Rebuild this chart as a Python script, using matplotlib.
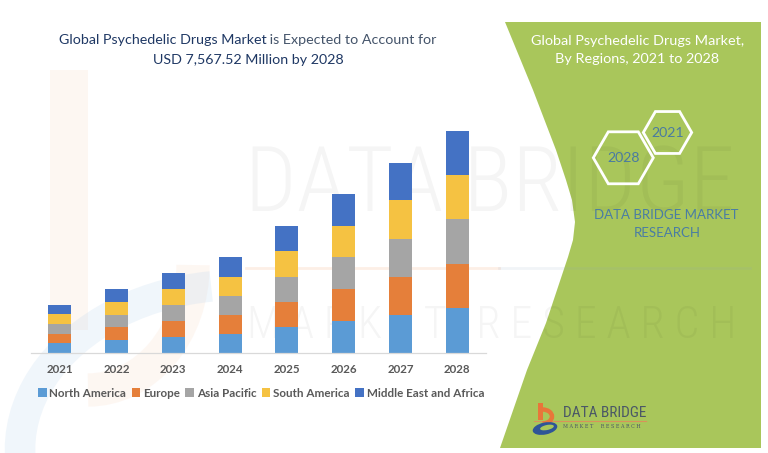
import matplotlib
matplotlib.use("Agg")
import matplotlib.pyplot as plt
import numpy as np
from matplotlib.patches import Polygon, Rectangle, Ellipse, Arc
from matplotlib.transforms import Affine2D
from matplotlib import font_manager

# ---------------- data ----------------
years = ["2021", "2022", "2023", "2024", "2025", "2026", "2027", "2028"]
regions = ["North America", "Europe", "Asia Pacific", "South America",
           "Middle East and Africa"]
north_america = [320, 433, 535, 637, 866, 1091, 1295, 1514]
europe = [327, 433, 556, 658, 873, 1081, 1295, 1510]
asia_pacific = [320, 419, 525, 637, 842, 1081, 1295, 1524]
south_america = [341, 453, 545, 648, 876, 1067, 1309, 1510]
middle_east_africa = [307, 423, 545, 672, 862, 1091, 1282, 1510]
series = [north_america, europe, asia_pacific, south_america, middle_east_africa]
colors = ["#5B9BD5", "#E57F3A", "#A5A5A5", "#F5C242", "#4472C4"]

title_part1 = "Global Psychedelic Drugs Market"
title_part2 = " is Expected to Account for"
title_line2 = "USD 7,567.52 Million by 2028"
panel_title = ["Global Psychedelic Drugs Market,", "By Regions, 2021 to 2028"]
hex_labels = ["2028", "2021"]
brand_lines = ["DATA BRIDGE MARKET", "RESEARCH"]

# ---------------- fonts ----------------
names = {f.name for f in font_manager.fontManager.ttflist}
MAIN = "Lato" if "Lato" in names else "DejaVu Sans"
NARROW = MAIN
for cand in ["Roboto Condensed", "Liberation Sans Narrow", "Open Sans Condensed",
             "DejaVu Sans Condensed"]:
    if cand in names:
        NARROW = cand
        break

W, H = 768, 453
fig = plt.figure(figsize=(W / 100, H / 100), dpi=100)
fig.patch.set_facecolor("white")
PX = Affine2D().scale(1 / W, -1 / H).translate(0, 1) + fig.transFigure
renderer = fig.canvas.get_renderer()


def fx(x):
    return x / W


def fy(y):
    return 1 - y / H


def text_width(s, **kw):
    t = fig.text(0, 0, s, **kw)
    w = t.get_window_extent(renderer).width
    t.remove()
    return w


def fit_size(s, target, base=10, **kw):
    return base * target / text_width(s, fontsize=base, **kw)


# ---------------- green side panel ----------------
GREEN = "#A9C65B"
left_edge = [(505, 22), (533, 90), (556, 150), (566, 180), (572, 200), (575, 222),
             (573, 240), (568, 257), (546, 323), (527, 370), (500, 448)]
panel = Polygon(left_edge + [(761, 448), (761, 22)], closed=True, transform=PX,
                facecolor=GREEN, edgecolor="none", zorder=0.1)
fig.patches.append(panel)

# ---------------- watermark ----------------
wm_kw = dict(family=NARROW, weight="light", color="black", alpha=0.04,
             ha="center", va="center", zorder=0.5)
fs = fit_size("DATA BRIDGE", 488, family=NARROW, weight="light")
fig.text(fx(490), fy(186), "DATA BRIDGE", fontsize=fs, **wm_kw)
fs2 = fit_size("M A R K E T   R E S E A R C H", 488, family=NARROW, weight="light")
fig.text(fx(492), fy(326), "M A R K E T   R E S E A R C H", fontsize=fs2, **wm_kw)
fig.lines.append(plt.Line2D([246, 499], [268, 268], transform=PX, color="#F4B183",
                            alpha=0.2, lw=2, zorder=0.5))
fig.lines.append(plt.Line2D([499, 750], [268, 268], transform=PX, color="#8FA5C0",
                            alpha=0.12, lw=2, zorder=0.5))
fig.patches.append(Rectangle((50, 70), 38, 260, transform=PX, facecolor="#F8CBAD",
                             alpha=0.15, edgecolor="none", zorder=0.4))
fig.patches.append(Arc((88, 265), 210, 250, theta1=0, theta2=90, transform=PX,
                       color="#F8CBAD", alpha=0.15, lw=24, zorder=0.4))
fig.patches.append(Arc((240, 450), 440, 330, theta1=150, theta2=260, transform=PX,
                       color="#BDD7EE", alpha=0.22, lw=22, zorder=0.4))

# ---------------- chart ----------------
baseline = 352.7
px_per_unit = 222.0 / 7568.0
ymax = 8000
ax_h = ymax * px_per_unit
ax = fig.add_axes([fx(31.3), fy(baseline), (485.7 - 31.3) / W, ax_h / H])
ax.set_facecolor("none")
ax.set_zorder(1)
x = np.arange(len(years))
bottom = np.zeros(len(years))
for name, vals, c in zip(regions, series, colors):
    ax.bar(x, vals, width=0.405, bottom=bottom, color=c, label=name, edgecolor="none")
    bottom += np.array(vals)
ax.set_xlim(-0.5, len(years) - 0.5)
ax.set_ylim(0, ymax)
for s in ["top", "right", "left"]:
    ax.spines[s].set_visible(False)
ax.spines["bottom"].set_color("#D9D9D9")
ax.spines["bottom"].set_linewidth(0.9)
ax.set_yticks([])
ax.set_xticks(x)
tick_fs = 1.1 * fit_size("2021", 24.3, family=MAIN, weight="bold")
ax.set_xticklabels(years, fontsize=tick_fs, fontweight="bold", color="#595959",
                   family=MAIN)
ax.tick_params(axis="x", length=0, pad=8)

leg_fs = fit_size("North America", 76.7, family=MAIN, weight="bold")
leg = ax.legend(loc="center", bbox_to_anchor=(fx(261), fy(393.3)),
                bbox_transform=fig.transFigure, ncol=5, frameon=False,
                handlelength=0.75, handleheight=0.75, handletextpad=0.25,
                columnspacing=0.45, borderaxespad=0,
                prop=dict(family=MAIN, weight="bold", size=leg_fs))
for t in leg.get_texts():
    t.set_color("#595959")

# ---------------- main title ----------------
tfs = fit_size(title_part1 + title_part2, 379, family=MAIN)
w1 = text_width(title_part1, fontsize=tfs, family=MAIN)
w2 = text_width(title_part2, fontsize=tfs, family=MAIN)
x0 = 247.8 - (w1 + w2) / 2
fig.text(fx(x0), fy(40), title_part1, fontsize=tfs, family=MAIN, color="#1F3864",
         ha="left", va="center")
fig.text(fx(x0 + w1), fy(40), title_part2, fontsize=tfs, family=MAIN, color="#44546A",
         ha="left", va="center")
fig.text(fx(248), fy(59.5), title_line2, fontsize=tfs, family=MAIN, color="#1F3864",
         ha="center", va="center")

# ---------------- panel text ----------------
pfs = fit_size(panel_title[0], 213, family=MAIN)
fig.text(fx(637.7), fy(40.7), panel_title[0], fontsize=pfs, family=MAIN, color="white",
         ha="center", va="center")
fig.text(fx(637.2), fy(59.3), panel_title[1], fontsize=pfs, family=MAIN, color="white",
         ha="center", va="center")

# hexagons
hexes = [(623.3, 157.8, 30.0), (667.5, 132.5, 24.2)]
ang = np.deg2rad(np.arange(0, 360, 60))
for (cx, cy, r), lab in zip(hexes, hex_labels):
    pts = np.column_stack([cx + r * np.cos(ang), cy + r * np.sin(ang)])
    fig.patches.append(Polygon(pts, closed=True, transform=PX, facecolor="none",
                               edgecolor="white", lw=2.0, zorder=3))
hfs = fit_size("2028", 32.7, family=MAIN)
for (cx, cy, r), lab in zip(hexes, hex_labels):
    fig.text(fx(cx), fy(cy + 0.5), lab, fontsize=hfs, family=MAIN, color="#4A7BA0",
             ha="center", va="center", zorder=4)

bfs = fit_size(brand_lines[0], 143, family=MAIN)
fig.text(fx(666.7), fy(215), brand_lines[0], fontsize=bfs, family=MAIN,
         color="#4A7DA3", ha="center", va="center")
fig.text(fx(667.5), fy(233.3), brand_lines[1], fontsize=bfs, family=MAIN,
         color="#4A7DA3", ha="center", va="center")

# ---------------- logo ----------------
ORANGE = "#E8763A"
fig.patches.append(Rectangle((537.5, 402.5), 5, 17, transform=PX, facecolor=ORANGE,
                             edgecolor="none", zorder=3))
fig.patches.append(Arc((542.5, 416.5), 19, 14, theta1=-90, theta2=90, transform=PX,
                       color=ORANGE, lw=3.2, zorder=3))
fig.lines.append(plt.Line2D([534, 646], [420.5, 420.5], transform=PX,
                            color="#D9925A", lw=0.8, zorder=3))
fig.patches.append(Ellipse((545, 428.5), 25, 12, angle=-12, transform=PX,
                           facecolor="#2F5597", edgecolor="none", zorder=3))
fig.patches.append(Ellipse((547, 427.5), 14, 5, angle=-12, transform=PX,
                           facecolor=GREEN, edgecolor="none", zorder=3.1))
lfs = fit_size("DATA BRIDGE", 84, family=NARROW)
fig.text(fx(563), fy(413), "DATA BRIDGE", fontsize=lfs, family=NARROW,
         color="#4B5866", ha="left", va="center")
sfs = fit_size("M A R K E T     R E S E A R C H", 78, family="DejaVu Serif")
fig.text(fx(563), fy(426.5), "M A R K E T     R E S E A R C H", fontsize=sfs,
         family="DejaVu Serif", color="#4B5866", ha="left", va="center")

fig.savefig("out.png", dpi=100)
